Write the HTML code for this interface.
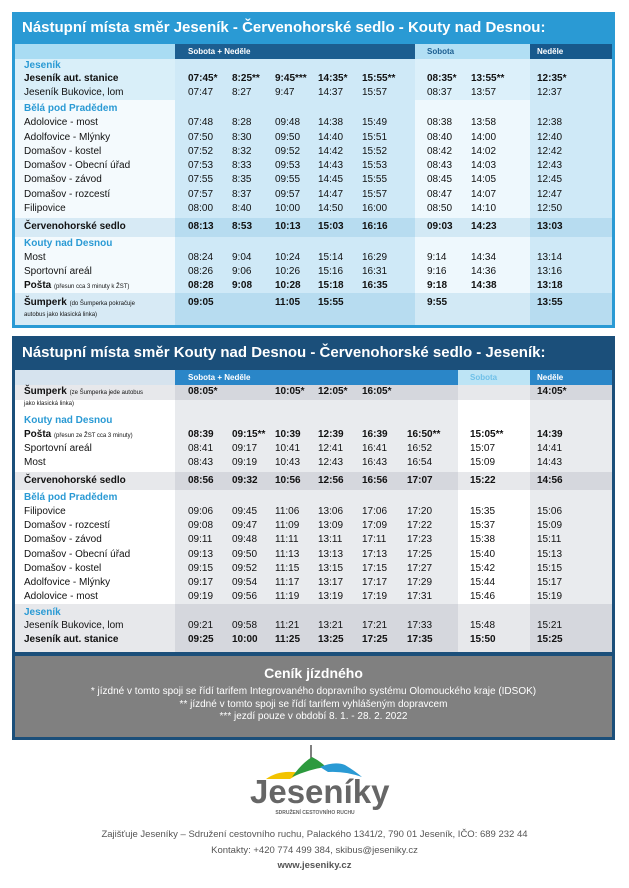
<!DOCTYPE html>
<html><head><meta charset="utf-8"><style>
body{margin:0;width:629px;height:888px;background:#fff;position:relative;font-family:"Liberation Sans",sans-serif;overflow:hidden}
div,span{position:absolute;box-sizing:border-box}
.t{font-size:10px;color:#111;white-space:nowrap;line-height:12px}
.b{font-weight:bold}
.h{color:#2a9ad4;font-weight:bold}
.s{font-size:6px;font-weight:normal}
</style></head><body>
<!-- TABLE 1 -->
<div style="left:12px;top:12px;width:603px;height:316px;background:#2a9ad4"></div>
<div style="left:22px;top:17px;color:#fff;font-weight:bold;font-size:15px;line-height:22px;white-space:nowrap">Nástupní místa směr Jeseník - Červenohorské sedlo - Kouty nad Desnou:</div>
<div style="left:15px;top:44px;width:160px;height:281px;background:#f4fafd"></div>
<div style="left:15px;top:44px;width:160px;height:15px;background:#a9dcf3"></div>
<div style="left:15px;top:59px;width:160px;height:41px;background:#d9eff9"></div>
<div style="left:175px;top:44px;width:240px;height:281px;background:#cfe9f7"></div>
<div style="left:175px;top:44px;width:240px;height:15px;background:#1c5e90"></div>
<div style="left:415px;top:44px;width:115px;height:281px;background:#eef8fd"></div>
<div style="left:415px;top:44px;width:115px;height:15px;background:#b2dff4"></div>
<div style="left:415px;top:59px;width:115px;height:41px;background:#dcf0fa"></div>
<div style="left:530px;top:44px;width:82px;height:281px;background:#cfe9f7"></div>
<div style="left:530px;top:44px;width:82px;height:15px;background:#17598c"></div>
<div style="left:15px;top:218px;width:597px;height:19px;background:rgba(40,140,200,0.14)"></div>
<div style="left:15px;top:293px;width:597px;height:32px;background:rgba(40,140,200,0.14)"></div>
<div class="t b" style="left:188px;top:46px;color:#fff;font-size:8px">Sobota + Neděle</div>
<div class="t b" style="left:427px;top:46px;color:#1c5e90;font-size:8px">Sobota</div>
<div class="t b" style="left:537px;top:46px;color:#fff;font-size:8px">Neděle</div>

<div class="t h" style="left:24px;top:60px">Jeseník</div>
<div class="t b" style="left:24px;top:73px">Jeseník aut. stanice</div>
<div class="t b" style="left:188px;top:73px">07:45*</div><div class="t b" style="left:232px;top:73px">8:25**</div><div class="t b" style="left:275px;top:73px">9:45***</div><div class="t b" style="left:318px;top:73px">14:35*</div><div class="t b" style="left:362px;top:73px">15:55**</div><div class="t b" style="left:427px;top:73px">08:35*</div><div class="t b" style="left:471px;top:73px">13:55**</div><div class="t b" style="left:537px;top:73px">12:35*</div>
<div class="t" style="left:24px;top:87px">Jeseník Bukovice, lom</div>
<div class="t" style="left:188px;top:87px">07:47</div><div class="t" style="left:232px;top:87px">8:27</div><div class="t" style="left:275px;top:87px">9:47</div><div class="t" style="left:318px;top:87px">14:37</div><div class="t" style="left:362px;top:87px">15:57</div><div class="t" style="left:427px;top:87px">08:37</div><div class="t" style="left:471px;top:87px">13:57</div><div class="t" style="left:537px;top:87px">12:37</div>
<div class="t h" style="left:24px;top:103px">Bělá pod Pradědem</div>

<div class="t" style="left:24px;top:117px">Adolovice - most</div>
<div class="t" style="left:188px;top:117px">07:48</div><div class="t" style="left:232px;top:117px">8:28</div><div class="t" style="left:275px;top:117px">09:48</div><div class="t" style="left:318px;top:117px">14:38</div><div class="t" style="left:362px;top:117px">15:49</div><div class="t" style="left:427px;top:117px">08:38</div><div class="t" style="left:471px;top:117px">13:58</div><div class="t" style="left:537px;top:117px">12:38</div>
<div class="t" style="left:24px;top:132px">Adolfovice - Mlýnky</div>
<div class="t" style="left:188px;top:132px">07:50</div><div class="t" style="left:232px;top:132px">8:30</div><div class="t" style="left:275px;top:132px">09:50</div><div class="t" style="left:318px;top:132px">14:40</div><div class="t" style="left:362px;top:132px">15:51</div><div class="t" style="left:427px;top:132px">08:40</div><div class="t" style="left:471px;top:132px">14:00</div><div class="t" style="left:537px;top:132px">12:40</div>
<div class="t" style="left:24px;top:146px">Domašov - kostel</div>
<div class="t" style="left:188px;top:146px">07:52</div><div class="t" style="left:232px;top:146px">8:32</div><div class="t" style="left:275px;top:146px">09:52</div><div class="t" style="left:318px;top:146px">14:42</div><div class="t" style="left:362px;top:146px">15:52</div><div class="t" style="left:427px;top:146px">08:42</div><div class="t" style="left:471px;top:146px">14:02</div><div class="t" style="left:537px;top:146px">12:42</div>
<div class="t" style="left:24px;top:160px">Domašov - Obecní úřad</div>
<div class="t" style="left:188px;top:160px">07:53</div><div class="t" style="left:232px;top:160px">8:33</div><div class="t" style="left:275px;top:160px">09:53</div><div class="t" style="left:318px;top:160px">14:43</div><div class="t" style="left:362px;top:160px">15:53</div><div class="t" style="left:427px;top:160px">08:43</div><div class="t" style="left:471px;top:160px">14:03</div><div class="t" style="left:537px;top:160px">12:43</div>
<div class="t" style="left:24px;top:174px">Domašov - závod</div>
<div class="t" style="left:188px;top:174px">07:55</div><div class="t" style="left:232px;top:174px">8:35</div><div class="t" style="left:275px;top:174px">09:55</div><div class="t" style="left:318px;top:174px">14:45</div><div class="t" style="left:362px;top:174px">15:55</div><div class="t" style="left:427px;top:174px">08:45</div><div class="t" style="left:471px;top:174px">14:05</div><div class="t" style="left:537px;top:174px">12:45</div>
<div class="t" style="left:24px;top:189px">Domašov - rozcestí</div>
<div class="t" style="left:188px;top:189px">07:57</div><div class="t" style="left:232px;top:189px">8:37</div><div class="t" style="left:275px;top:189px">09:57</div><div class="t" style="left:318px;top:189px">14:47</div><div class="t" style="left:362px;top:189px">15:57</div><div class="t" style="left:427px;top:189px">08:47</div><div class="t" style="left:471px;top:189px">14:07</div><div class="t" style="left:537px;top:189px">12:47</div>
<div class="t" style="left:24px;top:203px">Filipovice</div>
<div class="t" style="left:188px;top:203px">08:00</div><div class="t" style="left:232px;top:203px">8:40</div><div class="t" style="left:275px;top:203px">10:00</div><div class="t" style="left:318px;top:203px">14:50</div><div class="t" style="left:362px;top:203px">16:00</div><div class="t" style="left:427px;top:203px">08:50</div><div class="t" style="left:471px;top:203px">14:10</div><div class="t" style="left:537px;top:203px">12:50</div>
<div class="t b" style="left:24px;top:221px">Červenohorské sedlo</div>
<div class="t b" style="left:188px;top:221px">08:13</div><div class="t b" style="left:232px;top:221px">8:53</div><div class="t b" style="left:275px;top:221px">10:13</div><div class="t b" style="left:318px;top:221px">15:03</div><div class="t b" style="left:362px;top:221px">16:16</div><div class="t b" style="left:427px;top:221px">09:03</div><div class="t b" style="left:471px;top:221px">14:23</div><div class="t b" style="left:537px;top:221px">13:03</div>
<div class="t h" style="left:24px;top:238px">Kouty nad Desnou</div>
<div class="t" style="left:24px;top:252px">Most</div>
<div class="t" style="left:188px;top:252px">08:24</div><div class="t" style="left:232px;top:252px">9:04</div><div class="t" style="left:275px;top:252px">10:24</div><div class="t" style="left:318px;top:252px">15:14</div><div class="t" style="left:362px;top:252px">16:29</div><div class="t" style="left:427px;top:252px">9:14</div><div class="t" style="left:471px;top:252px">14:34</div><div class="t" style="left:537px;top:252px">13:14</div>
<div class="t" style="left:24px;top:266px">Sportovní areál</div>
<div class="t" style="left:188px;top:266px">08:26</div><div class="t" style="left:232px;top:266px">9:06</div><div class="t" style="left:275px;top:266px">10:26</div><div class="t" style="left:318px;top:266px">15:16</div><div class="t" style="left:362px;top:266px">16:31</div><div class="t" style="left:427px;top:266px">9:16</div><div class="t" style="left:471px;top:266px">14:36</div><div class="t" style="left:537px;top:266px">13:16</div>
<div class="t b" style="left:24px;top:280px">Pošta <span class="s" style="position:static">(přesun cca 3 minuty k ŽST)</span></div>
<div class="t b" style="left:188px;top:280px">08:28</div><div class="t b" style="left:232px;top:280px">9:08</div><div class="t b" style="left:275px;top:280px">10:28</div><div class="t b" style="left:318px;top:280px">15:18</div><div class="t b" style="left:362px;top:280px">16:35</div><div class="t b" style="left:427px;top:280px">9:18</div><div class="t b" style="left:471px;top:280px">14:38</div><div class="t b" style="left:537px;top:280px">13:18</div>
<div class="t b" style="left:24px;top:297px">Šumperk <span class="s" style="position:static">(do Šumperka pokračuje</span></div>
<div class="t s" style="left:24px;top:309px">autobus jako klasická linka)</div>
<div class="t b" style="left:188px;top:297px">09:05</div><div class="t b" style="left:275px;top:297px">11:05</div><div class="t b" style="left:318px;top:297px">15:55</div><div class="t b" style="left:427px;top:297px">9:55</div><div class="t b" style="left:537px;top:297px">13:55</div>

<!-- TABLE 2 -->
<div style="left:12px;top:336px;width:603px;height:404px;background:#1b4f7a"></div>
<div style="left:22px;top:342px;color:#fff;font-weight:bold;font-size:15px;line-height:22px;white-space:nowrap">Nástupní místa směr Kouty nad Desnou - Červenohorské sedlo - Jeseník:</div>
<div style="left:15px;top:370px;width:597px;height:282px;background:#fff"></div>
<div style="left:15px;top:370px;width:160px;height:15px;background:#d6e3ee"></div>
<div style="left:175px;top:370px;width:283px;height:282px;background:#e9ebee"></div>
<div style="left:175px;top:370px;width:283px;height:15px;background:#2a86c8"></div>
<div style="left:458px;top:370px;width:72px;height:15px;background:#bde4f5"></div>
<div style="left:530px;top:370px;width:82px;height:282px;background:#e9ebee"></div>
<div style="left:530px;top:370px;width:82px;height:15px;background:#2a86c8"></div>
<div style="left:15px;top:385px;width:597px;height:15px;background:rgba(120,130,145,0.18)"></div>
<div style="left:15px;top:472px;width:597px;height:18px;background:rgba(120,130,145,0.18)"></div>
<div style="left:15px;top:604px;width:597px;height:48px;background:rgba(120,130,145,0.18)"></div>
<div class="t b" style="left:188px;top:372px;color:#fff;font-size:8px">Sobota + Neděle</div>
<div class="t b" style="left:470px;top:372px;color:#6fc0e8;font-size:8px">Sobota</div>
<div class="t b" style="left:537px;top:372px;color:#fff;font-size:8px">Neděle</div>
<div class="t b" style="left:24px;top:386px">Šumperk <span class="s" style="position:static">(ze Šumperka jede autobus</span></div>
<div class="t s" style="left:24px;top:398px">jako klasická linka)</div>
<div class="t b" style="left:188px;top:386px">08:05*</div><div class="t b" style="left:275px;top:386px">10:05*</div><div class="t b" style="left:318px;top:386px">12:05*</div><div class="t b" style="left:362px;top:386px">16:05*</div><div class="t b" style="left:537px;top:386px">14:05*</div>
<div class="t h" style="left:24px;top:415px">Kouty nad Desnou</div>
<div class="t b" style="left:24px;top:429px">Pošta <span class="s" style="position:static">(přesun ze ŽST cca 3 minuty)</span></div>
<div class="t b" style="left:188px;top:429px">08:39</div><div class="t b" style="left:232px;top:429px">09:15**</div><div class="t b" style="left:275px;top:429px">10:39</div><div class="t b" style="left:318px;top:429px">12:39</div><div class="t b" style="left:362px;top:429px">16:39</div><div class="t b" style="left:407px;top:429px">16:50**</div><div class="t b" style="left:470px;top:429px">15:05**</div><div class="t b" style="left:537px;top:429px">14:39</div>
<div class="t" style="left:24px;top:443px">Sportovní areál</div>
<div class="t" style="left:188px;top:443px">08:41</div><div class="t" style="left:232px;top:443px">09:17</div><div class="t" style="left:275px;top:443px">10:41</div><div class="t" style="left:318px;top:443px">12:41</div><div class="t" style="left:362px;top:443px">16:41</div><div class="t" style="left:407px;top:443px">16:52</div><div class="t" style="left:470px;top:443px">15:07</div><div class="t" style="left:537px;top:443px">14:41</div>
<div class="t" style="left:24px;top:457px">Most</div>
<div class="t" style="left:188px;top:457px">08:43</div><div class="t" style="left:232px;top:457px">09:19</div><div class="t" style="left:275px;top:457px">10:43</div><div class="t" style="left:318px;top:457px">12:43</div><div class="t" style="left:362px;top:457px">16:43</div><div class="t" style="left:407px;top:457px">16:54</div><div class="t" style="left:470px;top:457px">15:09</div><div class="t" style="left:537px;top:457px">14:43</div>
<div class="t b" style="left:24px;top:475px">Červenohorské sedlo</div>
<div class="t b" style="left:188px;top:475px">08:56</div><div class="t b" style="left:232px;top:475px">09:32</div><div class="t b" style="left:275px;top:475px">10:56</div><div class="t b" style="left:318px;top:475px">12:56</div><div class="t b" style="left:362px;top:475px">16:56</div><div class="t b" style="left:407px;top:475px">17:07</div><div class="t b" style="left:470px;top:475px">15:22</div><div class="t b" style="left:537px;top:475px">14:56</div>
<div class="t h" style="left:24px;top:492px">Bělá pod Pradědem</div>
<div class="t" style="left:24px;top:506px">Filipovice</div>
<div class="t" style="left:188px;top:506px">09:06</div><div class="t" style="left:232px;top:506px">09:45</div><div class="t" style="left:275px;top:506px">11:06</div><div class="t" style="left:318px;top:506px">13:06</div><div class="t" style="left:362px;top:506px">17:06</div><div class="t" style="left:407px;top:506px">17:20</div><div class="t" style="left:470px;top:506px">15:35</div><div class="t" style="left:537px;top:506px">15:06</div>
<div class="t" style="left:24px;top:520px">Domašov - rozcestí</div>
<div class="t" style="left:188px;top:520px">09:08</div><div class="t" style="left:232px;top:520px">09:47</div><div class="t" style="left:275px;top:520px">11:09</div><div class="t" style="left:318px;top:520px">13:09</div><div class="t" style="left:362px;top:520px">17:09</div><div class="t" style="left:407px;top:520px">17:22</div><div class="t" style="left:470px;top:520px">15:37</div><div class="t" style="left:537px;top:520px">15:09</div>
<div class="t" style="left:24px;top:534px">Domašov - závod</div>
<div class="t" style="left:188px;top:534px">09:11</div><div class="t" style="left:232px;top:534px">09:48</div><div class="t" style="left:275px;top:534px">11:11</div><div class="t" style="left:318px;top:534px">13:11</div><div class="t" style="left:362px;top:534px">17:11</div><div class="t" style="left:407px;top:534px">17:23</div><div class="t" style="left:470px;top:534px">15:38</div><div class="t" style="left:537px;top:534px">15:11</div>
<div class="t" style="left:24px;top:549px">Domašov - Obecní úřad</div>
<div class="t" style="left:188px;top:549px">09:13</div><div class="t" style="left:232px;top:549px">09:50</div><div class="t" style="left:275px;top:549px">11:13</div><div class="t" style="left:318px;top:549px">13:13</div><div class="t" style="left:362px;top:549px">17:13</div><div class="t" style="left:407px;top:549px">17:25</div><div class="t" style="left:470px;top:549px">15:40</div><div class="t" style="left:537px;top:549px">15:13</div>
<div class="t" style="left:24px;top:563px">Domašov - kostel</div>
<div class="t" style="left:188px;top:563px">09:15</div><div class="t" style="left:232px;top:563px">09:52</div><div class="t" style="left:275px;top:563px">11:15</div><div class="t" style="left:318px;top:563px">13:15</div><div class="t" style="left:362px;top:563px">17:15</div><div class="t" style="left:407px;top:563px">17:27</div><div class="t" style="left:470px;top:563px">15:42</div><div class="t" style="left:537px;top:563px">15:15</div>
<div class="t" style="left:24px;top:577px">Adolfovice - Mlýnky</div>
<div class="t" style="left:188px;top:577px">09:17</div><div class="t" style="left:232px;top:577px">09:54</div><div class="t" style="left:275px;top:577px">11:17</div><div class="t" style="left:318px;top:577px">13:17</div><div class="t" style="left:362px;top:577px">17:17</div><div class="t" style="left:407px;top:577px">17:29</div><div class="t" style="left:470px;top:577px">15:44</div><div class="t" style="left:537px;top:577px">15:17</div>
<div class="t" style="left:24px;top:591px">Adolovice - most</div>
<div class="t" style="left:188px;top:591px">09:19</div><div class="t" style="left:232px;top:591px">09:56</div><div class="t" style="left:275px;top:591px">11:19</div><div class="t" style="left:318px;top:591px">13:19</div><div class="t" style="left:362px;top:591px">17:19</div><div class="t" style="left:407px;top:591px">17:31</div><div class="t" style="left:470px;top:591px">15:46</div><div class="t" style="left:537px;top:591px">15:19</div>
<div class="t h" style="left:24px;top:607px">Jeseník</div>
<div class="t" style="left:24px;top:620px">Jeseník Bukovice, lom</div>
<div class="t" style="left:188px;top:620px">09:21</div><div class="t" style="left:232px;top:620px">09:58</div><div class="t" style="left:275px;top:620px">11:21</div><div class="t" style="left:318px;top:620px">13:21</div><div class="t" style="left:362px;top:620px">17:21</div><div class="t" style="left:407px;top:620px">17:33</div><div class="t" style="left:470px;top:620px">15:48</div><div class="t" style="left:537px;top:620px">15:21</div>
<div class="t b" style="left:24px;top:634px">Jeseník aut. stanice</div>
<div class="t b" style="left:188px;top:634px">09:25</div><div class="t b" style="left:232px;top:634px">10:00</div><div class="t b" style="left:275px;top:634px">11:25</div><div class="t b" style="left:318px;top:634px">13:25</div><div class="t b" style="left:362px;top:634px">17:25</div><div class="t b" style="left:407px;top:634px">17:35</div><div class="t b" style="left:470px;top:634px">15:50</div><div class="t b" style="left:537px;top:634px">15:25</div>

<!-- PRICE BOX -->
<div style="left:15px;top:656px;width:597px;height:81px;background:#808080"></div>
<div style="left:15px;top:664px;width:597px;text-align:center;color:#fff;font-weight:bold;font-size:14px;line-height:18px">Ceník jízdného</div>
<div style="left:15px;top:686px;width:597px;text-align:center;color:#fff;font-size:10px;line-height:12.5px">* jízdné v tomto spoji se řídí tarifem Integrovaného dopravního systému Olomouckého kraje (IDSOK)<br>** jízdné v tomto spoji se řídí tarifem vyhlášeným dopravcem<br>*** jezdí pouze v období 8. 1. - 28. 2. 2022</div>

<!-- LOGO -->
<svg style="position:absolute;left:250px;top:745px" width="130" height="40" viewBox="0 0 130 40">
<line x1="61" y1="0" x2="61" y2="14" stroke="#555" stroke-width="1.5"/>
<path d="M16 34 Q30 24 50 28 L40 34 Z" fill="#f2c300"/>
<path d="M42 32 Q52 18 62 12 Q70 16 76 22 Q60 24 42 32 Z" fill="#2d9a3e"/>
<path d="M70 22 Q85 16 95 20 Q105 26 112 32 Q95 26 78 27 Z" fill="#2a9ad4"/>
</svg>
<div style="left:250px;top:774px;width:130px;text-align:center;color:#666;font-weight:bold;font-size:33px;line-height:36px">Jeseníky</div>
<div style="left:250px;top:810px;width:130px;text-align:center;color:#666;font-weight:bold;font-size:5px;line-height:6px">SDRUŽENÍ CESTOVNÍHO RUCHU</div>
<div style="left:0;top:827px;width:629px;text-align:center;color:#555;font-size:9.5px;line-height:15.5px">Zajišťuje Jeseníky – Sdružení cestovního ruchu, Palackého 1341/2, 790 01 Jeseník, IČO: 689 232 44<br>Kontakty: +420 774 499 384, skibus@jeseniky.cz<br><b>www.jeseniky.cz</b></div>
</body></html>
